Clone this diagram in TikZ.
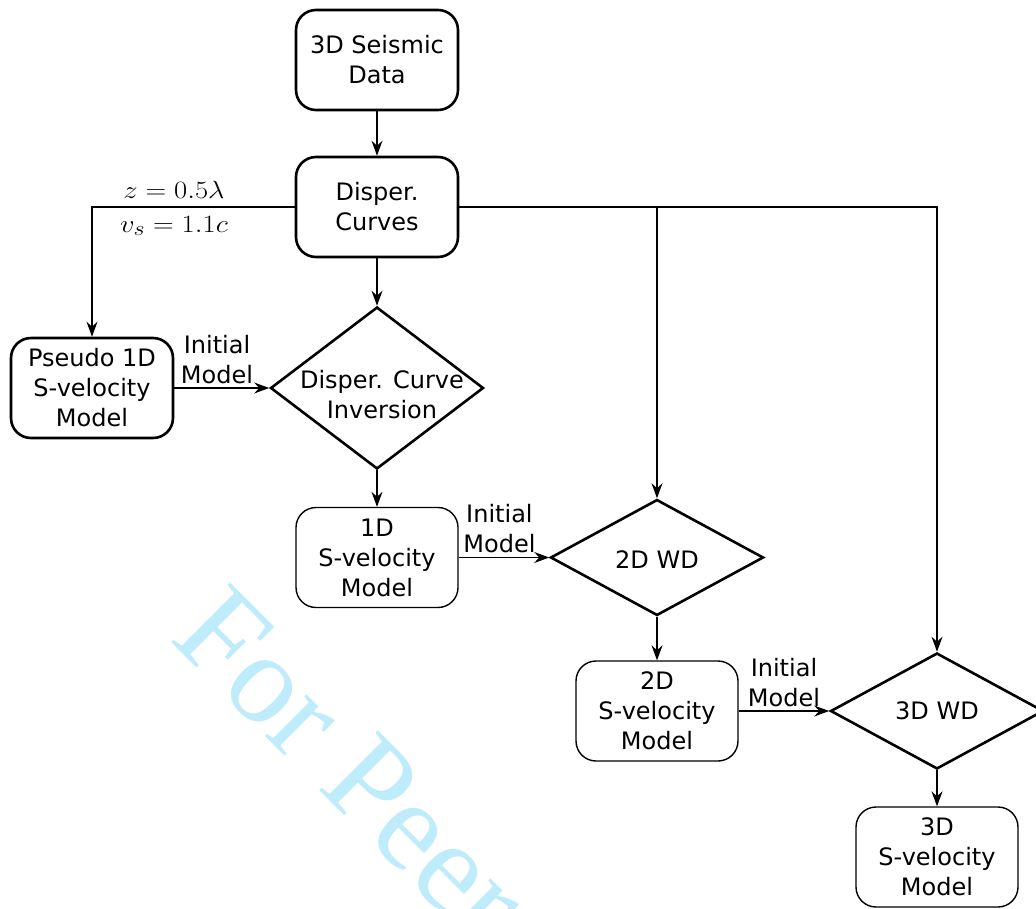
\documentclass[tikz,border=0pt]{standalone}
\usepackage{graphicx}
\usepackage[no-math]{fontspec}
\setmainfont{DejaVu Sans}
\newfontfamily\wmfont{Liberation Serif}
\usetikzlibrary{shapes.geometric,arrows.meta}
\definecolor{wmblue}{RGB}{191,236,251}
\begin{document}
\begin{tikzpicture}[x=1pt,y=-1pt,
  font=\fontsize{24}{30}\selectfont,
  boxthick/.style={draw, line width=2.6pt, rounded corners=20pt, minimum width=162pt, minimum height=100pt, align=center, inner sep=0pt},
  boxthin/.style={draw, line width=1.4pt, rounded corners=20pt, minimum width=162pt, minimum height=100pt, align=center, inner sep=0pt},
  dia/.style={draw, diamond, line width=2.6pt, minimum width=213pt, inner sep=0pt},
  arr/.style={line width=1.1pt, -{Stealth[length=15pt,width=11pt,inset=5pt]}},
  lbl/.style={align=center, inner sep=0pt, yshift=4pt},
  mathlbl/.style={inner sep=0pt, anchor=base, font=\fontsize{24.88}{30}\selectfont},
  wm/.style={text=wmblue, font=\wmfont\fontsize{128}{130}\selectfont, inner sep=0pt}
]
\useasboundingbox (0,0) rectangle (1036,908);
\node[wm, rotate=-45, anchor=base west] (wmark) at (168,639) {For Peer};

\node[boxthick] (seis) at (377,60) {3D Seismic\\Data};
\node[boxthick] (curves) at (377,207) {Disper.\\Curves};
\node[boxthick] (pseudo) at (92,388) {Pseudo 1D\\S-velocity\\Model};
\node[dia, minimum height=162pt, label={[align=center, xshift=5pt, yshift=-7pt]center:Disper. Curve\\Inversion}] (inv) at (377,388) {};
\node[boxthin] (one) at (377,557.5) {1D\\S-velocity\\Model};
\node[dia, minimum height=116pt, label={[align=center, yshift=-2pt]center:2D WD}] (wd2) at (657,557.5) {};
\node[boxthin] (two) at (657,711) {2D\\S-velocity\\Model};
\node[dia, minimum height=116pt, label={[align=center]center:3D WD}] (wd3) at (937,711) {};
\node[boxthin] (three) at (937,857) {3D\\S-velocity\\Model};

\draw[arr] (seis) -- (curves);
\draw[arr] (curves.west) -| (pseudo.north);
\node[mathlbl] (zlab) at (174,198) {\scalebox{1.15}[1]{$z=0.5\lambda$}};
\node[mathlbl] (vlab) at (174,232) {\scalebox{1.15}[1]{$v_s=1.1c$}};
\draw[arr] (curves) -- (inv);
\draw[arr] (curves.east) -| (wd2.north);
\draw[arr] (curves.east) -| (wd3.north);
\draw[arr] (pseudo.east) -- node[lbl, above, pos=0.45] (l1) {Initial\\Model} (inv.west);
\draw[arr] (inv) -- (one);
\draw[arr] (one.east) -- node[lbl, above, pos=0.45] (l2) {Initial\\Model} (wd2.west);
\draw[arr] (wd2) -- (two);
\draw[arr] (two.east) -- node[lbl, above, pos=0.5] (l3) {Initial\\Model} (wd3.west);
\draw[arr] (wd3) -- (three);
\end{tikzpicture}
\end{document}
